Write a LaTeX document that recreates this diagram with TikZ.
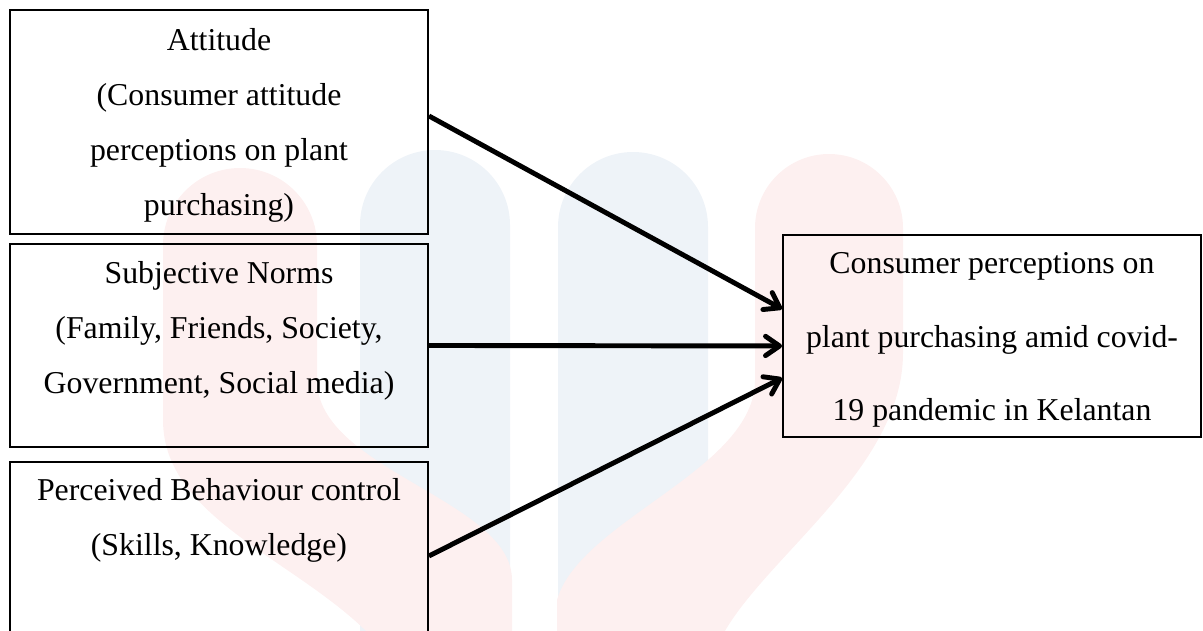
\documentclass[tikz,border=0pt]{standalone}
\usepackage{fontspec}
\setmainfont{Liberation Serif}
\usetikzlibrary{arrows.meta}
\definecolor{markblue}{RGB}{238,243,248}
\definecolor{markred}{RGB}{253,240,240}
\newcommand{\boxlines}[1]{\begin{tabular}[t]{@{}c@{}}#1\end{tabular}}
\begin{document}
\begin{tikzpicture}[x=0.2mm, y=-0.2mm,
  factor/.style={draw=black, line width=1.1pt, inner sep=0pt, anchor=north,
    minimum width=83.6mm, font=\fontsize{18.1}{31.2}\selectfont},
  link/.style={-{Straight Barb[length=8pt, width=11pt, line cap=round, line join=round]},
    line width=2.8pt, draw=black}]
\useasboundingbox (0,0) rectangle (1203,630);
% faint watermark behind the model
\fill[markblue, rounded corners=15mm] (360,150) rectangle (510,720);
\fill[markblue, rounded corners=15mm] (558,152) rectangle (708,720);
\fill[markred] (163,245) arc[start angle=180, end angle=360, radius=77] -- (317,380)
  .. controls (317,470) and (512,500) .. (512,580) -- (512,640) -- (375,640)
  .. controls (300,560) and (163,520) .. (163,420) -- cycle;
\fill[markred] (755,228) arc[start angle=180, end angle=360, radius=74] -- (903,353)
  .. controls (903,470) and (760,560) .. (720,640) -- (557,640) -- (557,600)
  .. controls (580,520) and (755,470) .. (755,380) -- cycle;
% the four boxes
\node[factor, text height=8.2mm, text depth=36.6mm] (att) at (219,9)
  {\boxlines{Attitude\\(Consumer attitude\\perceptions on plant\\purchasing)}};
\node[factor, text height=8mm, text depth=32.6mm] (sub) at (219,243)
  {\boxlines{Subjective Norms\\(Family, Friends, Society,\\Government, Social media)}};
\node[factor, text height=7.8mm, text depth=29.8mm] (pbc) at (219,461)
  {\boxlines{Perceived Behaviour control\\(Skills, Knowledge)}};
\node[factor, text height=7.8mm, text depth=32.6mm, font=\fontsize{18.1}{41.7}\selectfont] (out) at (992,234)
  {\boxlines{Consumer perceptions on\\plant purchasing amid covid-\\19 pandemic in Kelantan}};
% arrows into the outcome
\draw[link] ([yshift=1.2mm]att.east) -- ([yshift=5.4mm]out.west);
\draw[link] (sub.east) -- ([yshift=-2mm]out.west);
\draw[link] (pbc.east) -- ([yshift=-8.4mm]out.west);
\end{tikzpicture}
\end{document}
